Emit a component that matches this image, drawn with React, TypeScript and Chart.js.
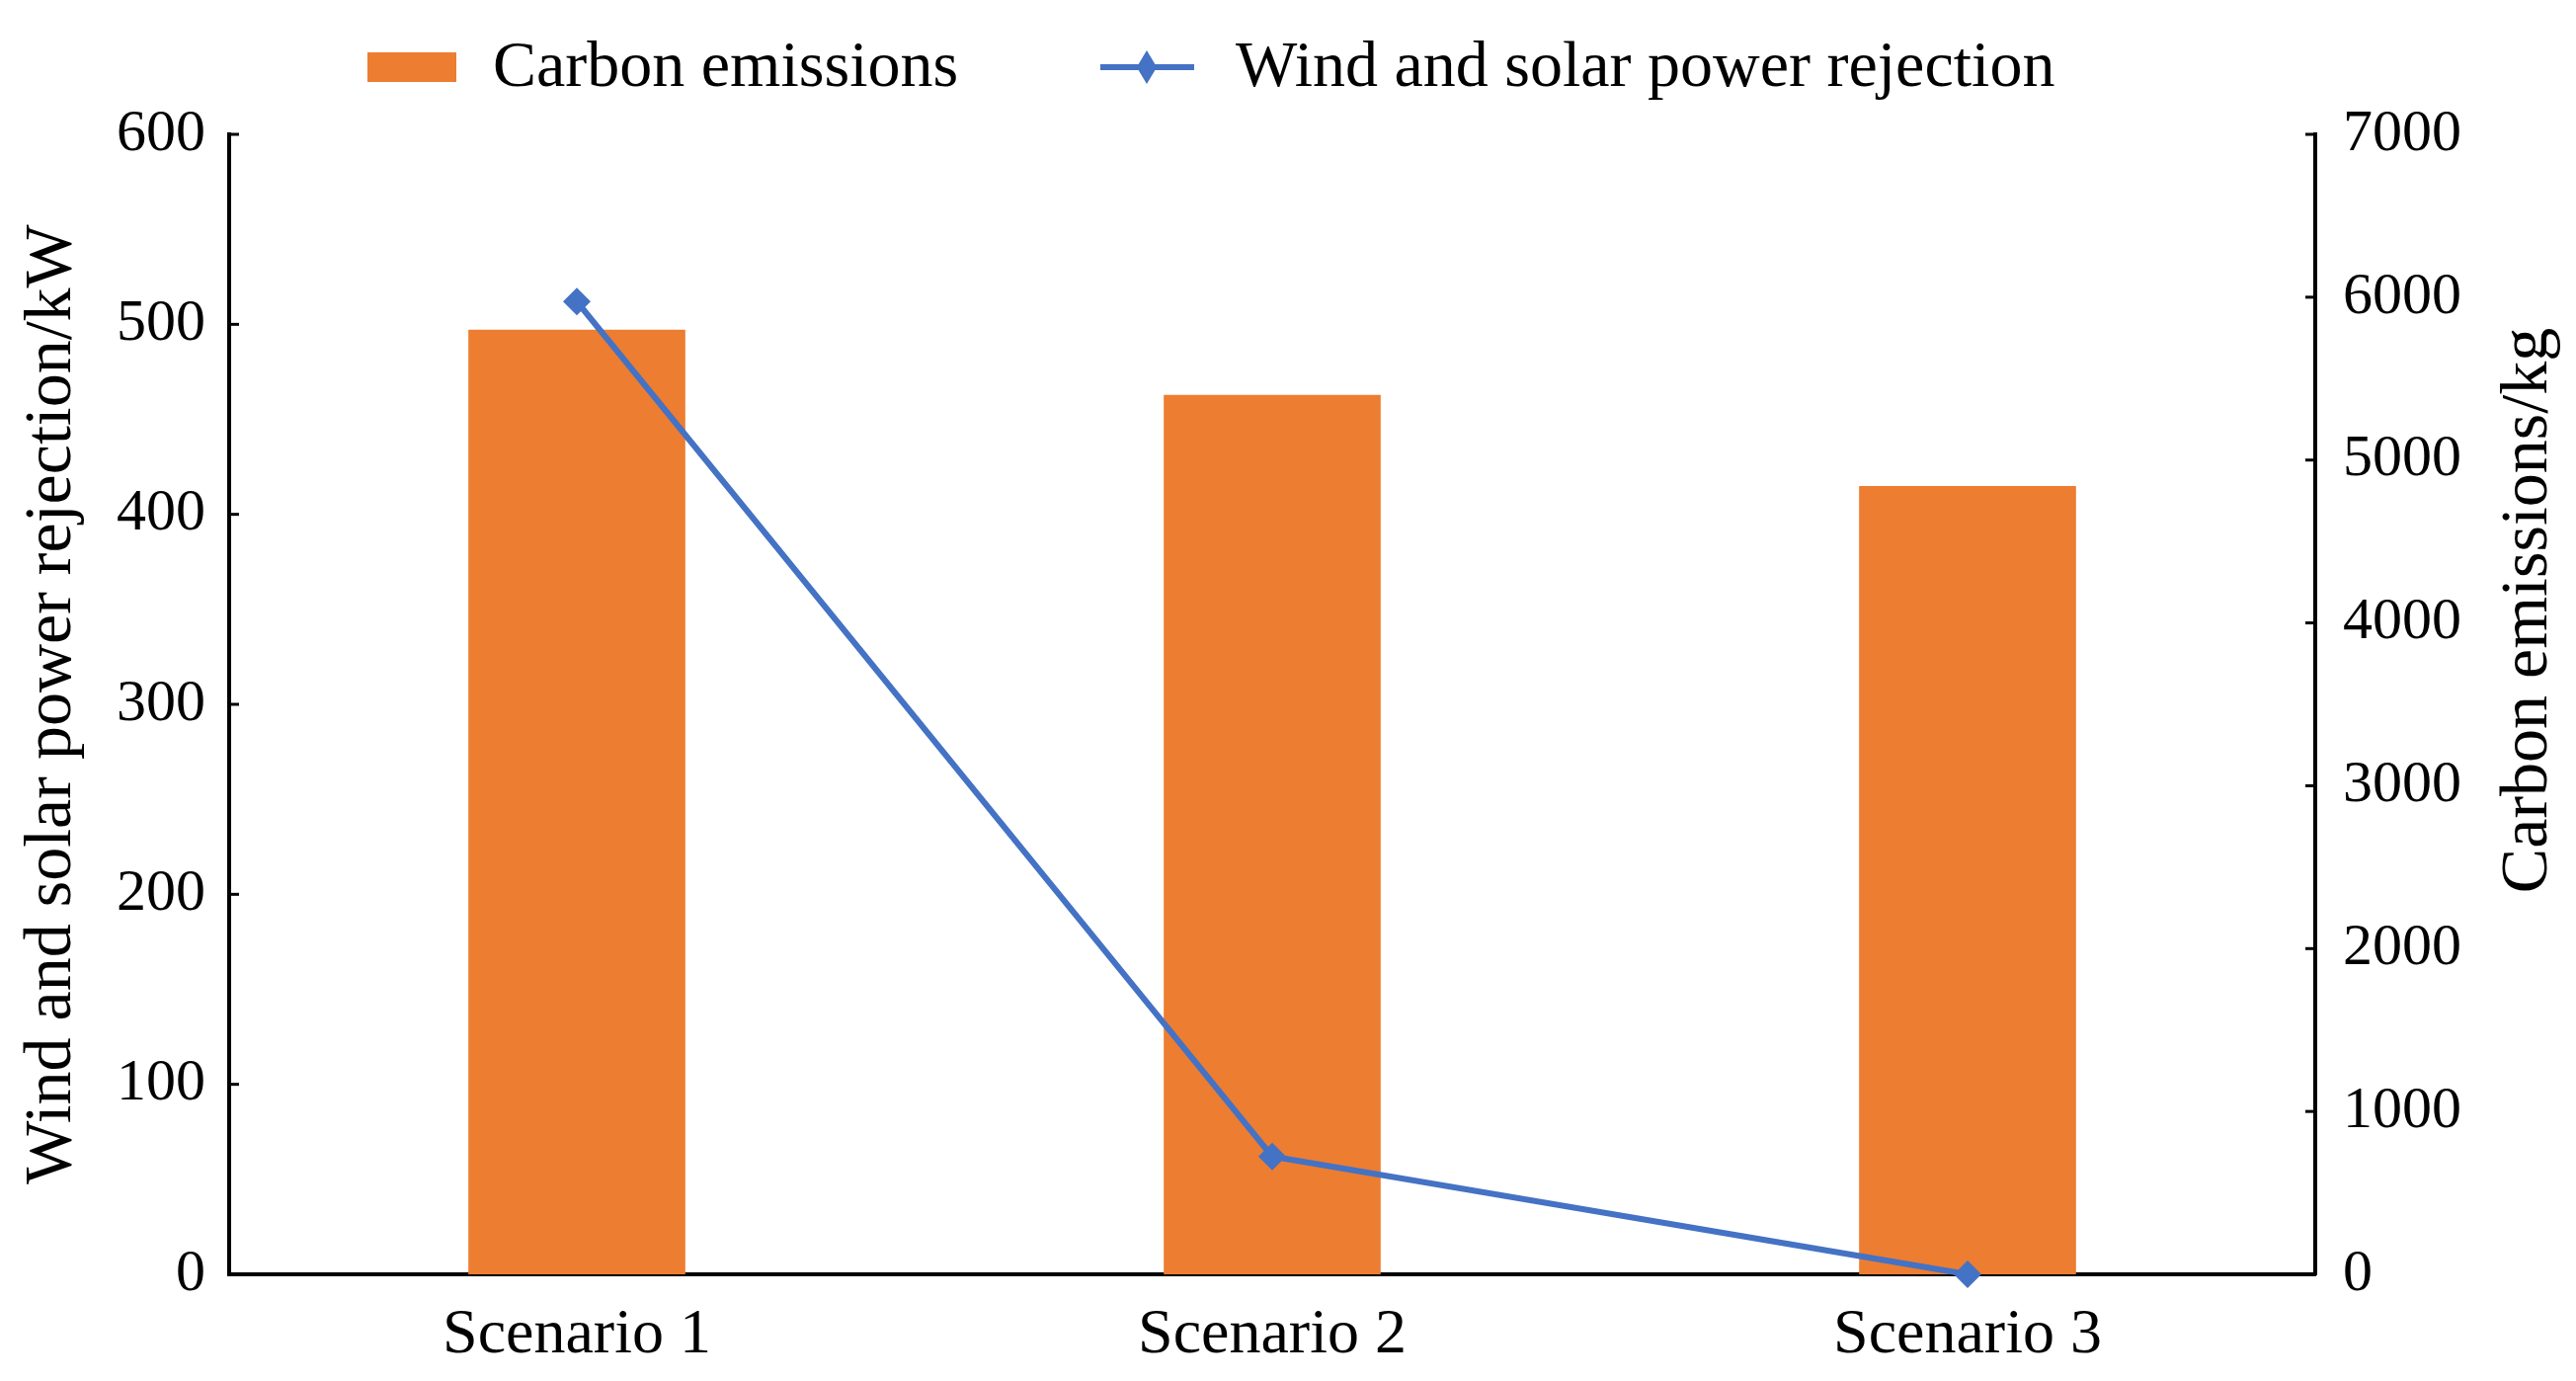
import React, { useEffect, useRef } from "react";
import { Chart, registerables } from "chart.js";

Chart.register(...registerables);

const categories = ["Scenario 1", "Scenario 2", "Scenario 3"];
const carbonEmissions = [5800, 5400, 4840];
const powerRejection = [512, 62, 0];
const leftMax = 600;
const leftStep = 100;
const rightMax = 7000;
const rightStep = 1000;
const carbonLabel = "Carbon emissions";
const rejectionLabel = "Wind and solar power rejection";
const leftTitle = "Wind and solar power rejection/kW";
const rightTitle = "Carbon emissions/kg";

const ORANGE = "#ED7D31";
const BLUE = "#4472C4";
const FONT = "'Liberation Serif', 'Times New Roman', serif";

const decorPlugin = {
  id: "decor",
  afterDraw(chart: any) {
    const ctx = chart.ctx;
    const ca = chart.chartArea;
    ctx.save();
    // inward tick marks
    ctx.strokeStyle = "#000";
    ctx.lineWidth = 3;
    const ys = chart.scales.y;
    ys.ticks.forEach((t: any) => {
      const py = ys.getPixelForValue(t.value);
      if (t.value === 0) return;
      ctx.beginPath();
      ctx.moveTo(ca.left, py);
      ctx.lineTo(ca.left + 10, py);
      ctx.stroke();
    });
    const y1 = chart.scales.y1;
    y1.ticks.forEach((t: any) => {
      const py = y1.getPixelForValue(t.value);
      if (t.value === 0) return;
      ctx.beginPath();
      ctx.moveTo(ca.right, py);
      ctx.lineTo(ca.right - 10, py);
      ctx.stroke();
    });
    // right title (bottom-to-top)
    ctx.fillStyle = "#000";
    ctx.font = `68px ${FONT}`;
    ctx.textAlign = "center";
    ctx.textBaseline = "middle";
    ctx.translate(2560, 618);
    ctx.rotate(-Math.PI / 2);
    ctx.fillText(rightTitle, 0, 0);
    ctx.setTransform(1, 0, 0, 1, 0, 0);
    ctx.restore();

    // legend
    ctx.save();
    const ly = 68;
    ctx.fillStyle = ORANGE;
    ctx.fillRect(372, ly - 15, 90, 30);
    ctx.fillStyle = "#000";
    ctx.font = `66px ${FONT}`;
    ctx.textAlign = "left";
    ctx.textBaseline = "middle";
    ctx.fillText(carbonLabel, 499, ly + 2);
    ctx.strokeStyle = BLUE;
    ctx.lineWidth = 6;
    ctx.beginPath();
    ctx.moveTo(1114, ly);
    ctx.lineTo(1209, ly);
    ctx.stroke();
    ctx.fillStyle = BLUE;
    ctx.beginPath();
    const cx = 1161, r = 17;
    ctx.moveTo(cx, ly - r);
    ctx.lineTo(cx + r * 0.6, ly);
    ctx.lineTo(cx, ly + r);
    ctx.lineTo(cx - r * 0.6, ly);
    ctx.closePath();
    ctx.fill();
    ctx.fillStyle = "#000";
    ctx.fillText(rejectionLabel, 1251, ly + 2);
    ctx.restore();
  },
};

export default function App() {
  const ref = useRef<HTMLCanvasElement>(null);
  useEffect(() => {
    document.body.style.margin = "0";
    const chart = new Chart(ref.current as HTMLCanvasElement, {
      type: "bar",
      data: {
        labels: categories,
        datasets: [
          {
            type: "line",
            label: rejectionLabel,
            data: powerRejection,
            yAxisID: "y",
            borderColor: BLUE,
            backgroundColor: BLUE,
            borderWidth: 6,
            pointStyle: "rectRot",
            pointRadius: 14,
            pointBorderWidth: 0,
            pointBackgroundColor: BLUE,
            tension: 0,
            clip: false,
            order: 0,
          } as any,
          {
            type: "bar",
            label: carbonLabel,
            data: carbonEmissions,
            yAxisID: "y1",
            backgroundColor: ORANGE,
            borderWidth: 0,
            categoryPercentage: 1,
            barPercentage: 0.312,
            order: 1,
          },
        ],
      },
      options: {
        animation: false,
        responsive: true,
        maintainAspectRatio: false,
        layout: { padding: { top: 136, left: 0, right: 0, bottom: 0 } },
        plugins: { legend: { display: false }, tooltip: { enabled: false } },
        scales: {
          x: {
            grid: { display: false },
            border: { display: true, color: "#000", width: 4 },
            ticks: { color: "#000", font: { family: FONT, size: 64 }, padding: 16, maxRotation: 0 },
            afterFit(s: any) { s.height = 108; },
          },
          y: {
            position: "left",
            min: 0,
            max: leftMax,
            grid: { display: false },
            border: { display: true, color: "#000", width: 4 },
            ticks: { stepSize: leftStep, color: "#000", font: { family: FONT, size: 60 }, padding: 16, callback: (v: any) => String(v) },
            title: { display: true, text: leftTitle, color: "#000", font: { family: FONT, size: 68 }, padding: { top: 12, bottom: 0 } },
            afterFit(s: any) { s.width = 232; },
          },
          y1: {
            position: "right",
            min: 0,
            max: rightMax,
            grid: { display: false },
            border: { display: true, color: "#000", width: 4 },
            ticks: { stepSize: rightStep, color: "#000", font: { family: FONT, size: 60 }, padding: 20, callback: (v: any) => String(v) },
            afterFit(s: any) { s.width = 264; },
          },
        },
      },
      plugins: [decorPlugin],
    });
    return () => chart.destroy();
  }, []);
  return (
    <div style={{ position: "relative", width: "2608px", height: "1398px", background: "#fff" }}>
      <canvas ref={ref} />
    </div>
  );
}
